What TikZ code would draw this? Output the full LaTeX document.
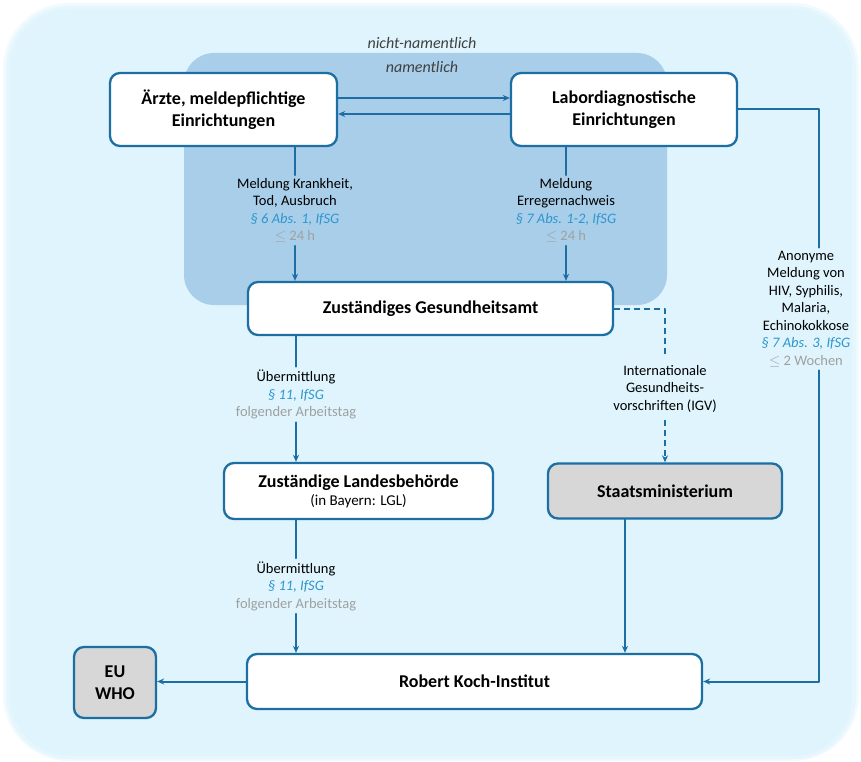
\documentclass[tikz,border=0pt]{standalone}
\usepackage{fontspec}
\setmainfont{Carlito}
\usepackage{tikz}
\usetikzlibrary{arrows.meta,calc,positioning}
\definecolor{meldeblau}{RGB}{28,110,163}
\definecolor{paragrafblau}{RGB}{45,150,205}
\definecolor{fristgrau}{RGB}{160,160,160}
\definecolor{hintergrund}{RGB}{223,244,252}
\definecolor{namentlichblau}{RGB}{168,206,233}
\definecolor{kastengrau}{RGB}{215,215,215}
\newcommand{\para}[1]{\textcolor{paragrafblau}{\itshape #1}}
\newcommand{\frist}[1]{\textcolor{fristgrau}{#1}}

\begin{document}
\begin{tikzpicture}[>={Stealth[length=7pt,width=6pt]},x=1pt,y=-1pt,line cap=round,line join=round,
 kasten/.style={draw=meldeblau,line width=2.3pt,fill=white,rounded corners=10pt,inner sep=0pt,
  align=center,font=\fontsize{18}{22}\selectfont\bfseries},
 graukasten/.style={kasten,fill=kastengrau},
 anm/.style={align=center,inner sep=3pt,font=\fontsize{14.5}{17.5}\selectfont},
 vlinie/.style={draw=meldeblau,line width=2pt}]
\useasboundingbox (0,0) rectangle (861,762);
% Hintergrund und Bereich der namentlichen Meldungen
\fill[hintergrund!45!white,rounded corners=66pt] (3,3) rectangle (859,761);
\fill[hintergrund!80!white,rounded corners=63pt] (6,6) rectangle (856,759);
\fill[hintergrund,rounded corners=60pt] (10,9) rectangle (852,756);
\fill[namentlichblau,rounded corners=30pt] (184,53) rectangle (667,305);
\node[font=\fontsize{16}{18}\selectfont\itshape,text=black!75] (nichtnam) at (422,43) {nicht-namentlich};
\node[font=\fontsize{16}{18}\selectfont\itshape,text=black!75] (nam) at (422,67) {namentlich};
% Meldepflichtige und Behörden
\node[kasten,minimum width=227pt,minimum height=73pt] (aerzte) at (223.5,109.5)
 {\"Arzte, meldepflichtige\\Einrichtungen};
\node[kasten,minimum width=226pt,minimum height=73pt] (labor) at (624,109.5)
 {Labordiagnostische\\Einrichtungen};
\node[kasten,minimum width=365pt,minimum height=53pt] (gesamt) at (430.5,308.5)
 {Zuständiges Gesundheitsamt};
\node[kasten,minimum width=269pt,minimum height=56pt] (landes) at (358.5,491)
 {Zuständige Landesbehörde\\[-4pt]{\fontsize{15}{17}\selectfont\mdseries (in Bayern: LGL)}};
\node[graukasten,minimum width=234pt,minimum height=55pt] (staatsmin) at (665,491)
 {Staatsministerium};
\node[kasten,minimum width=455pt,minimum height=55pt] (rki) at (474.5,681.5)
 {Robert Koch-Institut};
\node[graukasten,minimum width=82pt,minimum height=71pt] (euwho) at (115,682.5)
 {EU\\WHO};
% Beschriftungen der Meldewege
\node[anm] (m6) at (295,210.5)
 {Meldung Krankheit,\\Tod, Ausbruch\\\para{§ 6 Abs. 1, IfSG}\\\frist{$\le$ 24 h}};
\node[anm] (m7) at (566,210.5)
 {Meldung\\Erregernachweis\\\para{§ 7 Abs. 1-2, IfSG}\\\frist{$\le$ 24 h}};
\node[anm] (ue1) at (296,394.5)
 {Übermittlung\\\para{§ 11, IfSG}\\\frist{folgender Arbeitstag}};
\node[anm] (ue2) at (296,586)
 {Übermittlung\\\para{§ 11, IfSG}\\\frist{folgender Arbeitstag}};
\node[anm,inner ysep=8pt] (igv) at (665,388.5)
 {Internationale\\Gesundheits-\\vorschriften (IGV)};
\node[anm] (anon) at (806,309)
 {Anonyme\\Meldung von\\HIV, Syphilis,\\Malaria,\\Echinokokkose\\\para{§ 7 Abs. 3, IfSG}\\\frist{$\le$ 2 Wochen}};
% Verbindungen
\draw[vlinie,->] ([yshift=11.5pt]aerzte.east) -- ([yshift=11.5pt]labor.west);
\draw[vlinie,->] ([yshift=-4.5pt]labor.west) -- ([yshift=-4.5pt]aerzte.east);
\draw[vlinie] (aerzte.south -| m6) -- (m6.north);
\draw[vlinie,->] (m6.south) -- (gesamt.north -| m6);
\draw[vlinie] (labor.south -| m7) -- (m7.north);
\draw[vlinie,->] (m7.south) -- (gesamt.north -| m7);
\draw[vlinie] (gesamt.south -| ue1) -- (ue1.north);
\draw[vlinie,->] (ue1.south) -- (landes.north -| ue1);
\draw[vlinie] (landes.south -| ue2) -- (ue2.north);
\draw[vlinie,->] (ue2.south) -- (rki.north -| ue2);
\draw[vlinie,dash pattern=on 6pt off 4pt,line cap=butt] (gesamt.east) -| (igv.north);
\draw[vlinie,dash pattern=on 6pt off 4pt,line cap=butt,->] (igv.south) -- (staatsmin.north);
\draw[vlinie,->] ([xshift=-40pt]staatsmin.south) -- ([xshift=-40pt]staatsmin.south |- rki.north);
\draw[vlinie] (labor.east) -| ([xshift=13pt]anon.north);
\draw[vlinie,->] ([xshift=13pt]anon.south) |- (rki.east);
\draw[vlinie,->] (rki.west) -- (rki.west -| euwho.east);
\end{tikzpicture}
\end{document}
